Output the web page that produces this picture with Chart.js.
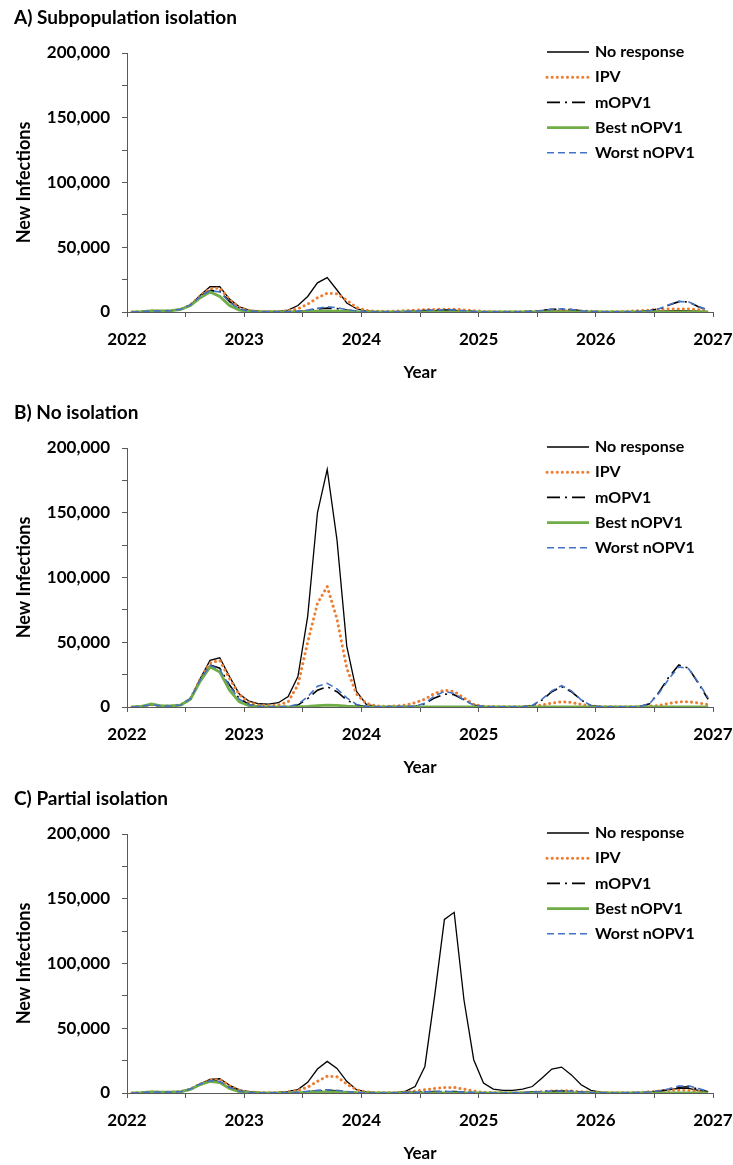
<!DOCTYPE html>
<html>
<head>
<meta charset="utf-8">
<script src="https://cdn.jsdelivr.net/npm/chart.js@4.4.1/dist/chart.umd.min.js"></script>
<style>
  html, body { margin: 0; padding: 0; background: #fff; }
  body { width: 733px; height: 1165px; position: relative; overflow: hidden; }
  canvas { position: absolute; left: 0; }
</style>
</head>
<body>
<canvas id="cA" width="733" height="384" style="top:0px"></canvas>
<canvas id="cB" width="733" height="384" style="top:395px"></canvas>
<canvas id="cC" width="733" height="384" style="top:781px"></canvas>
<script>
// ---- Labels ----
const panelTitles = ['A) Subpopulation isolation', 'B) No isolation', 'C) Partial isolation'];
const seriesNames = ['No response', 'IPV', 'mOPV1', 'Best nOPV1', 'Worst nOPV1'];
const yearLabels = ['2022', '2023', '2024', '2025', '2026', '2027'];
const yTickLabels = ['0', '50,000', '100,000', '150,000', '200,000'];
const xTitle = 'Year';
const yTitle = 'New Infections';

// ---- Monthly values, Jan 2022 .. Dec 2026 (one row per year) ----
// Panel A
const noResponseA = [
  0, 300, 900, 800, 1000, 2000, 5500, 13000, 19500, 19500, 10000, 4000,
  1500, 600, 400, 500, 1500, 5000, 12000, 22500, 26500, 17000, 7000, 2500,
  800, 300, 200, 200, 300, 500, 800, 1000, 1200, 1000, 600, 300,
  100, 100, 100, 100, 100, 100, 300, 600, 800, 700, 400, 200,
  100, 100, 100, 100, 100, 300, 600, 900, 1000, 900, 600, 300];
const ipvA = [
  0, 300, 900, 800, 1000, 2000, 5500, 12500, 18000, 18500, 9500, 3500,
  1200, 500, 300, 400, 1000, 2500, 6000, 11000, 14500, 14000, 9000, 3500,
  1200, 600, 500, 700, 1000, 1500, 1800, 2000, 2200, 2100, 1600, 1000,
  500, 300, 200, 200, 300, 500, 800, 1000, 1100, 1000, 800, 500,
  300, 200, 300, 600, 1000, 1500, 2000, 2300, 2400, 2300, 1800, 900];
const mopvA = [
  0, 300, 900, 800, 1000, 2000, 5500, 12000, 16500, 16000, 8000, 2500,
  800, 200, 100, 100, 200, 500, 1200, 2200, 3000, 2600, 1500, 600,
  200, 100, 100, 200, 400, 800, 1200, 1500, 1600, 1400, 900, 400,
  150, 100, 100, 100, 200, 500, 1200, 2000, 2300, 1800, 1000, 400,
  200, 100, 100, 200, 500, 1000, 2500, 5400, 8000, 7800, 4000, 1500];
const bestA = [
  0, 300, 900, 800, 1000, 2000, 5000, 11000, 15500, 12000, 5000, 1500,
  400, 100, 50, 50, 100, 200, 400, 600, 700, 600, 400, 200,
  100, 50, 0, 0, 0, 0, 0, 0, 0, 0, 0, 0,
  0, 0, 0, 0, 0, 0, 0, 0, 0, 0, 0, 0,
  0, 0, 0, 0, 0, 0, 0, 0, 0, 0, 0, 0];
const worstA = [
  0, 300, 900, 800, 1000, 2000, 5500, 12000, 16500, 15500, 7500, 2300,
  700, 200, 100, 100, 200, 600, 1500, 2800, 4000, 3300, 1800, 700,
  200, 100, 100, 200, 400, 800, 1200, 1500, 1700, 1500, 1000, 400,
  150, 100, 100, 100, 200, 500, 1200, 2100, 2400, 1900, 1000, 400,
  200, 100, 100, 200, 500, 1000, 2600, 5600, 8200, 7800, 4200, 1600];

// Panel B
const noResponseB = [
  0, 500, 1800, 800, 800, 1500, 6500, 22000, 36000, 38000, 23500, 10000,
  4500, 2500, 2200, 3300, 8000, 23500, 70000, 150000, 183500, 129000, 47000, 12000,
  2000, 500, 300, 200, 200, 200, 200, 200, 200, 200, 100, 100,
  0, 0, 0, 0, 0, 0, 0, 0, 0, 0, 0, 0,
  0, 0, 0, 0, 0, 0, 0, 0, 0, 0, 0, 0];
const ipvB = [
  0, 500, 1800, 800, 800, 1500, 6500, 21500, 34000, 36000, 22000, 9500,
  3500, 1500, 1200, 1500, 4000, 17000, 50000, 80000, 93000, 68000, 30000, 10000,
  2800, 800, 600, 800, 1500, 3300, 6000, 10500, 13000, 12000, 7000, 2000,
  500, 300, 200, 200, 300, 700, 1500, 3000, 4000, 3500, 2000, 800,
  300, 200, 200, 200, 300, 600, 1200, 2800, 4000, 4000, 3200, 1800];
const mopvB = [
  0, 500, 1800, 800, 800, 1500, 6500, 21000, 32500, 30000, 17000, 6500,
  2000, 500, 200, 200, 400, 1500, 6500, 13000, 15700, 11800, 5400, 1500,
  400, 200, 200, 300, 400, 500, 2500, 7000, 10000, 9500, 5500, 1500,
  300, 100, 100, 100, 200, 1000, 5400, 11800, 15700, 11800, 5400, 1000,
  200, 100, 100, 100, 300, 2500, 11800, 23400, 32400, 30000, 18300, 6000];
const bestB = [
  0, 500, 2300, 800, 800, 1500, 6000, 20000, 31000, 27000, 13000, 4000,
  1000, 300, 100, 100, 100, 200, 500, 1000, 1500, 1200, 600, 200,
  100, 0, 0, 0, 0, 0, 0, 0, 0, 0, 0, 0,
  0, 0, 0, 0, 0, 0, 0, 0, 0, 0, 0, 0,
  0, 0, 0, 0, 0, 0, 0, 0, 0, 0, 0, 0];
const worstB = [
  0, 500, 1800, 800, 800, 1500, 6500, 21000, 32000, 29000, 16000, 6000,
  1800, 400, 200, 200, 500, 2000, 8000, 16000, 18300, 14000, 7000, 2000,
  500, 200, 200, 300, 400, 600, 3000, 8500, 12000, 10500, 5500, 1500,
  300, 100, 100, 100, 200, 1200, 6000, 12500, 16500, 12500, 5500, 1200,
  200, 100, 100, 100, 300, 2500, 11000, 22000, 31000, 29500, 19000, 7000];

// Panel C
const noResponseC = [
  0, 300, 800, 600, 700, 1000, 3000, 7000, 10500, 11000, 6000, 2500,
  1000, 400, 300, 500, 1200, 2600, 8200, 18500, 24400, 19000, 9000, 2600,
  800, 300, 200, 300, 1300, 5000, 20500, 75000, 134000, 139500, 72000, 25700,
  7700, 3000, 2000, 2000, 3000, 5000, 11600, 18500, 20000, 14000, 6400, 2000,
  600, 200, 100, 100, 200, 500, 1200, 2500, 3500, 3500, 2000, 600];
const ipvC = [
  0, 300, 800, 600, 700, 1000, 3000, 7000, 10000, 10500, 5500, 2000,
  700, 300, 200, 300, 800, 2000, 4500, 9000, 13000, 12500, 7000, 2500,
  800, 300, 200, 300, 800, 1500, 2500, 3500, 4300, 4300, 3000, 1500,
  500, 200, 100, 100, 200, 500, 1000, 1500, 1800, 1500, 1000, 500,
  200, 100, 100, 200, 500, 1000, 1500, 2000, 2200, 2000, 1400, 600];
const mopvC = [
  0, 300, 800, 600, 700, 1000, 3000, 7000, 9500, 9000, 4500, 1500,
  400, 100, 100, 100, 200, 500, 1000, 1600, 2000, 1700, 1000, 400,
  100, 50, 50, 100, 300, 600, 900, 1100, 1200, 1100, 700, 300,
  100, 50, 50, 100, 300, 700, 1100, 1400, 1500, 1300, 800, 400,
  100, 50, 50, 200, 300, 600, 1500, 2800, 4500, 4800, 3000, 1000];
const bestC = [
  0, 300, 800, 600, 700, 1000, 2800, 6500, 9000, 8000, 3500, 1000,
  300, 100, 50, 50, 100, 200, 400, 700, 900, 800, 500, 200,
  100, 0, 0, 0, 0, 0, 0, 0, 0, 0, 0, 0,
  0, 0, 0, 0, 0, 0, 0, 0, 0, 0, 0, 0,
  0, 0, 0, 0, 0, 0, 0, 0, 0, 0, 0, 0];
const worstC = [
  0, 300, 800, 600, 700, 1000, 3000, 7000, 9500, 8800, 4300, 1400,
  400, 100, 100, 100, 300, 600, 1300, 2000, 2500, 2100, 1200, 400,
  100, 50, 50, 100, 300, 600, 900, 1100, 1200, 1100, 700, 300,
  100, 50, 50, 100, 300, 700, 1200, 1500, 1600, 1400, 800, 400,
  100, 50, 50, 200, 400, 800, 1800, 3300, 5300, 5500, 3500, 1200];

// month positions (mid-month, in years)
const monthX = noResponseA.map((_, i) => 2022 + (i + 0.5) / 12);

const FONT = 'Lato, "Open Sans", "DejaVu Sans", sans-serif';
Chart.defaults.font.family = FONT;
Chart.defaults.color = '#000';

const styles = [
  { borderColor: '#000000', borderWidth: 1.3, borderDash: [], borderCapStyle: 'butt', order: 4 },
  { borderColor: '#ED7D31', borderWidth: 3, borderDash: [0.1, 5], borderCapStyle: 'round', order: 3 },
  { borderColor: '#000000', borderWidth: 1.6, borderDash: [13, 5, 2, 5], borderCapStyle: 'butt', order: 2 },
  { borderColor: '#70AD47', borderWidth: 2.8, borderDash: [], borderCapStyle: 'butt', order: 1 },
  { borderColor: '#4472C4', borderWidth: 1.6, borderDash: [7, 4], borderCapStyle: 'butt', order: 0 }
];

const insideLegend = {
  id: 'insideLegend',
  afterDatasetsDraw(chart) {
    const { ctx, chartArea } = chart;
    const x0 = chartArea.right - 166, x1 = chartArea.right - 124, tx = chartArea.right - 118;
    ctx.save();
    chart.data.datasets.forEach((ds, k) => {
      const y = chartArea.top - 1 + k * 25.2;
      ctx.beginPath();
      ctx.strokeStyle = ds.borderColor;
      ctx.lineWidth = ds.borderWidth;
      ctx.setLineDash(ds.borderDash || []);
      ctx.lineCap = ds.borderCapStyle || 'butt';
      ctx.moveTo(x0, y);
      ctx.lineTo(x1, y);
      ctx.stroke();
      ctx.setLineDash([]);
      ctx.fillStyle = '#000';
      ctx.font = 'bold 16px ' + FONT;
      ctx.textBaseline = 'middle';
      ctx.textAlign = 'left';
      ctx.fillText(ds.label, tx, y);
    });
    ctx.restore();
  }
};

function makePanel(id, title, series) {
  const datasets = series.map((vals, k) => Object.assign({
    label: seriesNames[k],
    data: vals.map((v, i) => ({ x: monthX[i], y: v })),
    pointRadius: 0,
    tension: 0,
    fill: false
  }, styles[k]));
  new Chart(document.getElementById(id), {
    type: 'line',
    data: { datasets },
    plugins: [insideLegend],
    options: {
      responsive: false,
      animation: false,
      devicePixelRatio: 1,
      layout: { padding: { left: 14, right: 0, top: 0, bottom: 0 } },
      plugins: {
        legend: { display: false },
        tooltip: { enabled: false },
        title: {
          display: true, text: title, align: 'start', color: '#000',
          font: { size: 19, weight: 'bold', family: FONT },
          padding: { top: 6, bottom: 24.2 }
        }
      },
      scales: {
        x: {
          type: 'linear', min: 2022, max: 2027,
          afterFit: (s) => { s.height = 72; s.paddingLeft = 0; s.paddingRight = 20; },
          ticks: {
            stepSize: 0.5, autoSkip: false, maxRotation: 0, padding: 12,
            color: '#000', font: { size: 17, weight: 'bold', family: FONT },
            callback: (v) => Number.isInteger(v) ? yearLabels[v - 2022] : ''
          },
          grid: { display: true, drawOnChartArea: false, drawTicks: true, tickLength: 5, tickColor: '#595959', tickWidth: 1 },
          border: { display: true, color: '#595959', width: 1 },
          title: { display: true, text: xTitle, color: '#000', font: { size: 17, weight: 'bold', family: FONT }, padding: { top: 0, bottom: 1 } }
        },
        y: {
          min: 0, max: 200000,
          afterFit: (s) => { s.width = 113; },
          ticks: {
            stepSize: 25000, autoSkip: false, padding: 12,
            color: '#000', font: { size: 17, weight: 'bold', family: FONT },
            callback: (v) => (v % 50000 === 0) ? yTickLabels[v / 50000] : ''
          },
          grid: { display: true, drawOnChartArea: false, drawTicks: true, tickLength: 5, tickColor: '#595959', tickWidth: 1 },
          border: { display: true, color: '#595959', width: 1 },
          title: { display: true, text: yTitle, color: '#000', font: { size: 18, weight: 'bold', family: FONT }, padding: { top: -1, bottom: 0 } }
        }
      }
    }
  });
}

makePanel('cA', panelTitles[0], [noResponseA, ipvA, mopvA, bestA, worstA]);
makePanel('cB', panelTitles[1], [noResponseB, ipvB, mopvB, bestB, worstB]);
makePanel('cC', panelTitles[2], [noResponseC, ipvC, mopvC, bestC, worstC]);
</script>
</body>
</html>
